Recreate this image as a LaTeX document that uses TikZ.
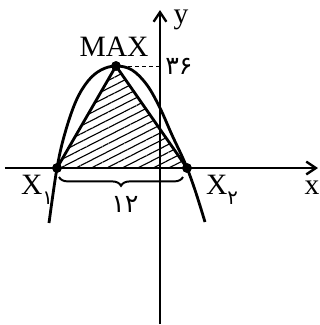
\documentclass[tikz,border=0pt]{standalone}
\usepackage{fontspec}
\setmainfont{Liberation Serif}
\newfontfamily\fadigits[Script=Arabic]{DejaVu Sans}
\usetikzlibrary{arrows.meta, patterns.meta, decorations.pathreplacing, positioning}

\begin{document}
\begin{tikzpicture}[
    x=0.025cm, y=-0.025cm,
    axis/.style={line width=2pt, -{Straight Barb[length=0.24cm, width=0.32cm, line width=1.7pt]}},
    curve/.style={line width=2pt},
    dot/.style={circle, fill=black, inner sep=0pt, minimum size=0.24cm},
    lbl/.style={font=\fontsize{21}{24}\selectfont, inner sep=1pt},
    fa/.style={font=\fontsize{18}{20}\selectfont\fadigits, inner sep=1pt}
]
\useasboundingbox (0,0) rectangle (320,325);
% points
\node[dot] (x1) at (57,168) {};
\node[dot] (mx) at (116,66) {};
\node[dot] (x2) at (187,168) {};
% shaded triangle
\fill[pattern={Lines[angle=27, distance=5pt, line width=0.8pt]}] (x1.center) -- (mx.center) -- (x2.center) -- cycle;
\draw[curve, line join=round] (x1.center) -- (mx.center) -- (x2.center);
% parabola
\draw[curve] plot[smooth, tension=0.6] coordinates {(49,223) (57,168) (65,133) (76,101) (88,81) (101,70) (116,66) (132,70) (147,85) (160,108) (172,135) (185,163) (195,190) (205,222)};
% axes
\coordinate (xl) at (5,168);
\coordinate (xr) at (318,168);
\coordinate (yb) at (160,324);
\coordinate (yt) at (160,10);
\draw[axis] (xl) -- (xr);
\draw[axis] (yb) -- (yt);
\node[lbl] (ylab) at (181,20) {y};
\node[lbl] (xlab) at (312,188) {x};
% dots again on top
\foreach \p in {x1, mx, x2} { \node[dot] at (\p) {}; }
% labels
\node[lbl] (maxlab) at (114,47) {MAX};
\coordinate (d36) at (159,66);
\draw[dashed, line width=0.7pt, dash pattern=on 3pt off 2pt] (mx) -- (d36);
\node[fa] (v36) at (179,66) {۳۶};
\node[lbl] (x1lab) at (37,190) {X\raisebox{-0.35em}{\fontsize{14}{16}\selectfont\fadigits ۱}};
\node[lbl] (x2lab) at (222,190) {X\raisebox{-0.35em}{\fontsize{14}{16}\selectfont\fadigits ۲}};
% brace
\coordinate (b1) at (59,177);
\coordinate (b2) at (183,177);
\draw[line width=1.4pt, decorate, decoration={brace, mirror, amplitude=0.22cm}] (b1) -- (b2);
\node[fa] (v12) at (125,204) {۱۲};
\end{tikzpicture}
\end{document}
